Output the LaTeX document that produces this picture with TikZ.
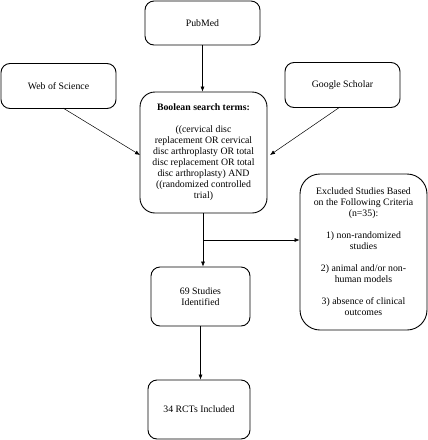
\documentclass[tikz,border=0pt]{standalone}
\usepackage{fontspec}
\setmainfont{Liberation Serif}
\usetikzlibrary{arrows.meta}
\begin{document}
\begin{tikzpicture}[x=1pt,y=-1pt,
  box/.style={draw, line width=0.9pt, rounded corners=9pt, align=center, font=\fontsize{9.8}{11}\selectfont, inner sep=2pt},
  arr/.style={draw, line width=0.5pt, -{Latex[length=5pt,width=4pt]}}]
\useasboundingbox (0,0) rectangle (428,440);
\node[box, minimum width=115pt, minimum height=44pt] (pub) at (202.5,23) {PubMed};
\node[box, minimum width=115pt, minimum height=45pt] (wos) at (58.5,86) {Web of Science};
\node[box, minimum width=115pt, minimum height=45pt] (gs) at (342.5,85) {Google Scholar};
\node[box, rounded corners=15pt, minimum width=127pt, minimum height=121pt] (bool) at (203.5,152.5) {\textbf{Boolean search terms:}\\[11pt]((cervical disc\\replacement OR cervical\\disc arthroplasty OR total\\disc replacement OR total\\disc arthroplasty) AND\\((randomized controlled\\trial)};
\node[box, rounded corners=20pt, minimum width=127pt, minimum height=156pt] (exc) at (363.5,252) {Excluded Studies Based\\on the Following Criteria\\(n=35):\\[11pt]1) non-randomized\\studies\\[11pt]2) animal and/or non-\\human models\\[11pt]3) absence of clinical\\outcomes};
\node[box, minimum width=99pt, minimum height=59pt] (s69) at (200.5,296.5) {69 Studies\\Identified};
\node[box, minimum width=102pt, minimum height=59pt] (rct) at (199,409.5) {34 RCTs Included};
\coordinate (wosout) at (63,108);
\coordinate (gsout) at (340,107);
\coordinate (br) at (203,240);
\draw[arr] (pub.south) -- (pub.south |- bool.north);
\draw[arr] (wosout) -- (140,155);
\draw[arr] (gsout) -- (270,155);
\draw[arr] (bool.south -| br) -- (br |- s69.north);
\draw[arr] (br) -- (br -| exc.west);
\draw[arr] (s69.south) -- (s69.south |- rct.north);
\end{tikzpicture}
\end{document}
